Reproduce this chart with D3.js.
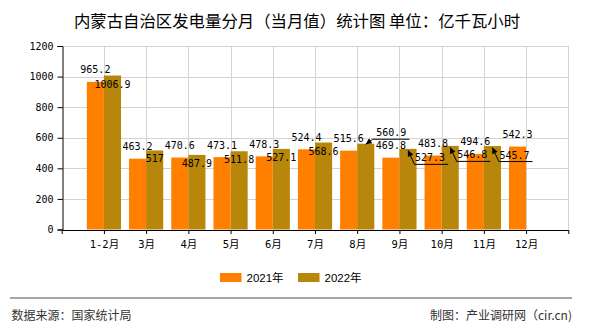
<!DOCTYPE html>
<html><head><meta charset="utf-8">
<script src="https://cdn.jsdelivr.net/npm/d3@7"></script>
<style>
html,body{margin:0;padding:0;background:#fff;}
svg{display:block;}
</style></head>
<body>
<svg id="chart" width="590" height="330"></svg>
<script>
const titleText = "内蒙古自治区发电量分月（当月值）统计图 单位：亿千瓦小时";
const categories = ["1-2月","3月","4月","5月","6月","7月","8月","9月","10月","11月","12月"];
const seriesNames = ["2021年","2022年"];
const values2021 = [965.2, 463.2, 470.6, 473.1, 478.3, 524.4, 515.6, 469.8, 483.8, 494.6, 542.3];
const values2022 = [1006.9, 517, 487.9, 511.8, 527.1, 568.6, 560.9, 527.3, 546.8, 545.7, null];
const yTicks = [0, 200, 400, 600, 800, 1000, 1200];
const sourceText = "数据来源：国家统计局";
const creditText = "制图：产业调研网（cir.cn)";
// labels moved aside with a leader line: [series index, category index, direction]
const callouts = [[1, 6, -1], [1, 7, 1], [1, 8, 1], [1, 9, 1]];

(function () {
const colors = ["#FF8000", "#B8860B"];
const series = [values2021, values2022];
const mono = "'DejaVu Sans Mono','Noto Sans CJK SC',monospace";
const cjk = "'Noto Sans CJK SC','Liberation Sans',sans-serif";

const svg = d3.select("#chart");
const pLeft = 61.7, pRight = 568.3, pTop = 46, pBottom = 229.5;

const x = d3.scaleLinear().domain([-1, categories.length]).range([pLeft, pRight]);
const y = d3.scaleLinear().domain([0, 1200]).range([pBottom, pTop]);
const step = x(1) - x(0);
const bw = step * 0.405;

// title
svg.append("text").attr("x", 297).attr("y", 27).attr("text-anchor", "middle")
  .attr("font-family", cjk).attr("font-size", 16.4).attr("fill", "#000").text(titleText);

// grid
const grid = svg.append("g");
grid.selectAll("line.h").data(yTicks.filter(d => d > 0)).join("line")
  .attr("x1", pLeft).attr("x2", pRight).attr("y1", d => Math.round(y(d)) + 0.5).attr("y2", d => Math.round(y(d)) + 0.5)
  .attr("stroke", "#d3d3d3").attr("stroke-width", 1);
grid.selectAll("line.v").data(d3.range(0, categories.length + 1)).join("line")
  .attr("x1", d => Math.round(x(d)) + 0.5).attr("x2", d => Math.round(x(d)) + 0.5)
  .attr("y1", pTop).attr("y2", pBottom)
  .attr("stroke", "#d3d3d3").attr("stroke-width", 1);

// bars
series.forEach((vals, s) => {
  svg.append("g").selectAll("rect").data(vals.map((v, i) => ({v, i})).filter(d => d.v != null)).join("rect")
    .attr("x", d => x(d.i) + (s === 0 ? -bw : 0))
    .attr("width", bw)
    .attr("y", d => y(d.v))
    .attr("height", d => y(0) - y(d.v))
    .attr("fill", colors[s]);
});

// axes
const yAxis = svg.append("g").attr("transform", `translate(${Math.round(pLeft) + 0.5},0)`)
  .call(d3.axisLeft(y).tickValues(yTicks).tickSize(5).tickPadding(4).tickFormat(d3.format("d")));
yAxis.select(".domain").attr("stroke", "#000");
yAxis.selectAll(".tick line").attr("stroke", "#000");
yAxis.selectAll("text").attr("font-family", mono).attr("font-size", 10).attr("fill", "#000");

const xAxis = svg.append("g").attr("transform", `translate(0,${pBottom + 0.5})`)
  .call(d3.axisBottom(x).tickValues(d3.range(-1, categories.length + 1)).tickSize(4).tickSizeOuter(0)
    .tickFormat(i => categories[i] || ""));
xAxis.select(".domain").attr("stroke", "#000");
xAxis.selectAll(".tick line").attr("stroke", "#000");
xAxis.selectAll("text").attr("font-family", mono).attr("font-size", 10.5).attr("fill", "#000")
  .attr("dy", 0).attr("y", 17.5);

// value labels
const calloutSet = new Set(callouts.map(c => c[0] + "-" + c[1]));
const labels = svg.append("g").attr("font-family", mono).attr("font-size", 10).attr("fill", "#000");
series.forEach((vals, s) => {
  vals.forEach((v, i) => {
    if (v == null || calloutSet.has(s + "-" + i)) return;
    const cx = x(i) + (s === 0 ? -bw / 2 : bw / 2);
    labels.append("text").attr("x", cx).attr("y", s === 0 ? y(v) - 8.5 : y(v) + 12)
      .attr("text-anchor", "middle").text(String(v));
  });
});

// callouts
const defs = svg.append("defs");
defs.append("marker").attr("id", "arr").attr("viewBox", "0 0 10 10").attr("refX", 10).attr("refY", 5)
  .attr("markerWidth", 7).attr("markerHeight", 6).attr("orient", "auto-start-reverse")
  .attr("markerUnits", "userSpaceOnUse")
  .append("path").attr("d", "M0,0 L10,5 L0,10 Z").attr("fill", "#000");
callouts.forEach(([s, i, dir]) => {
  const v = series[s][i];
  const cx = x(i) + (s === 0 ? -bw / 2 : bw / 2);
  const tipY = y(v) + (dir < 0 ? 0.5 : 1.5);
  const ex = cx + (dir < 0 ? 7 : 6.5);
  const ey = dir < 0 ? y(v) - 4.5 : y(v) + 15.5;
  const tx = ex + (dir < 0 ? 3.5 : 0.5);
  const t = labels.append("text").attr("x", tx).attr("y", ey - 3).attr("text-anchor", "start").text(String(v));
  const w = t.node().getComputedTextLength();
  svg.append("path")
    .attr("d", `M${cx},${tipY} L${ex},${ey} L${tx + w + 3},${ey}`)
    .attr("fill", "none").attr("stroke", "#000").attr("stroke-width", 1)
    .attr("marker-start", "url(#arr)");
});

// legend
const legend = svg.append("g");
const legX = [220, 298];
seriesNames.forEach((n, s) => {
  legend.append("rect").attr("x", legX[s]).attr("y", 273).attr("width", 21.5).attr("height", 9).attr("fill", colors[s]);
  legend.append("text").attr("x", legX[s] + 26.5).attr("y", 281.5)
    .attr("font-family", "'Liberation Sans','Noto Sans CJK SC',sans-serif").attr("font-size", 11.5)
    .attr("fill", "#000").text(n);
});

// footer
svg.append("line").attr("x1", 10).attr("x2", 572).attr("y1", 298).attr("y2", 298)
  .attr("stroke", "#888").attr("stroke-width", 1.5);
svg.append("text").attr("x", 11.5).attr("y", 320).attr("font-family", cjk).attr("font-size", 12)
  .attr("fill", "#333").text(sourceText);
svg.append("text").attr("x", 572).attr("y", 320).attr("text-anchor", "end").attr("font-family", cjk)
  .attr("font-size", 12).attr("fill", "#333").text(creditText);
})();
</script>
</body></html>
